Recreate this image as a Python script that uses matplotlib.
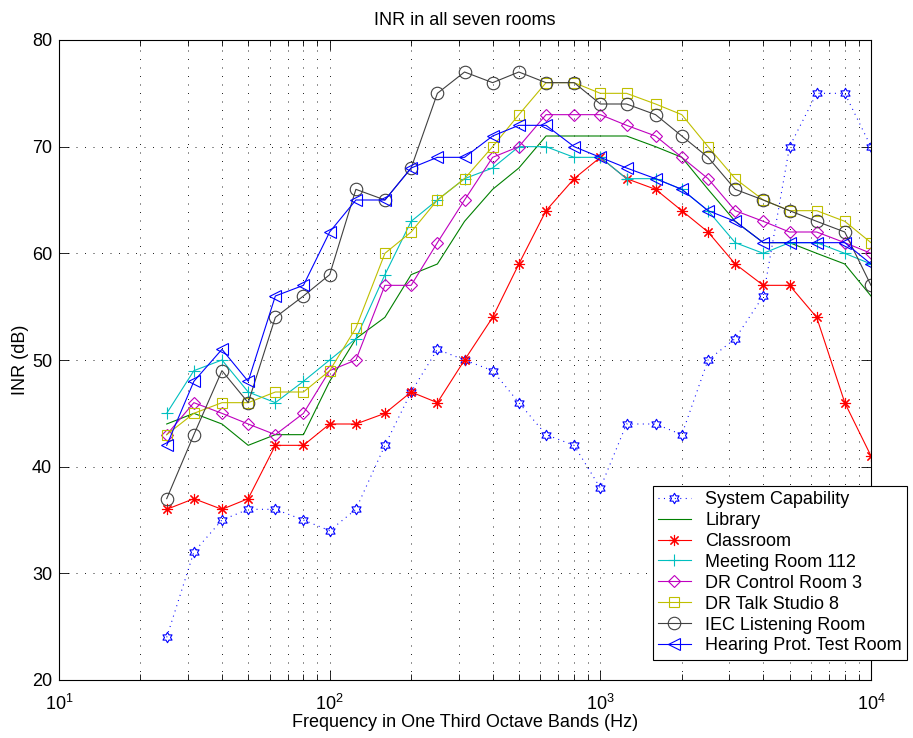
import numpy as np
import matplotlib
matplotlib.use("Agg")
import matplotlib.pyplot as plt
from matplotlib.path import Path

plt.rcParams['font.family'] = ['Liberation Sans', 'DejaVu Sans']
plt.rcParams['mathtext.fontset'] = 'custom'
plt.rcParams['mathtext.rm'] = 'Liberation Sans'
plt.rcParams['mathtext.default'] = 'regular'

# One-third octave band centre frequencies (Hz)
freq = [25, 31.5, 40, 50, 63, 80, 100, 125, 160, 200, 250, 315, 400, 500,
        630, 800, 1000, 1250, 1600, 2000, 2500, 3150, 4000, 5000, 6300, 8000, 10000]

system_capability = [24, 32, 35, 36, 36, 35, 34, 36, 42, 47, 51, 50, 49, 46,
                     43, 42, 38, 44, 44, 43, 50, 52, 56, 70, 75, 75, 70]
library = [44, 45, 44, 42, 43, 43, 48, 52, 54, 58, 59, 63, 66, 68,
           71, 71, 71, 71, 70, 69, 66, 63, 61, 61, 60, 59, 56]
classroom = [36, 37, 36, 37, 42, 42, 44, 44, 45, 47, 46, 50, 54, 59,
             64, 67, 69, 67, 66, 64, 62, 59, 57, 57, 54, 46, 41]
meeting_room_112 = [45, 49, 50, 47, 46, 48, 50, 52, 58, 63, 65, 67, 68, 70,
                    70, 69, 69, 67, 67, 66, 64, 61, 60, 61, 61, 60, 59]
dr_control_room_3 = [43, 46, 45, 44, 43, 45, 49, 50, 57, 57, 61, 65, 69, 70,
                     73, 73, 73, 72, 71, 69, 67, 64, 63, 62, 62, 61, 60]
dr_talk_studio_8 = [43, 45, 46, 46, 47, 47, 49, 53, 60, 62, 65, 67, 70, 73,
                    76, 76, 75, 75, 74, 73, 70, 67, 65, 64, 64, 63, 61]
iec_listening_room = [37, 43, 49, 46, 54, 56, 58, 66, 65, 68, 75, 77, 76, 77,
                      76, 76, 74, 74, 73, 71, 69, 66, 65, 64, 63, 62, 57]
hearing_prot_room = [42, 48, 51, 48, 56, 57, 62, 65, 65, 68, 69, 69, 71, 72,
                     72, 70, 69, 68, 67, 66, 64, 63, 61, 61, 61, 61, 59]

labels = ['System Capability', 'Library', 'Classroom', 'Meeting Room 112',
          'DR Control Room 3', 'DR Talk Studio 8', 'IEC Listening Room',
          'Hearing Prot. Test Room']

# Six-pointed star outline marker
ang = np.pi / 2 + np.arange(12) * np.pi / 6
rad = np.where(np.arange(12) % 2 == 0, 1.0, 1.0 / np.sqrt(3))
hexagram = Path(np.column_stack([rad * np.cos(ang), rad * np.sin(ang)]).tolist()
                + [[0.0, 1.0]], closed=True)

blue = (0, 0, 1)
green = (0, 0.5, 0)
red = (1, 0, 0)
cyan = (0, 0.75, 0.75)
magenta = (0.75, 0, 0.75)
yellow = (0.75, 0.75, 0)
gray = (0.25, 0.25, 0.25)

FS = 13

fig = plt.figure(figsize=(9.13, 7.38), dpi=100)
ax = fig.add_axes([59 / 913, 1 - 680 / 738, 812 / 913, 640 / 738])

lw = 0.8
ax.plot(freq, system_capability, color=blue, linestyle=(0, (0.9, 4)), lw=lw,
        marker=hexagram, markersize=7.5, mfc='none', mec=blue, mew=lw, label=labels[0])
ax.plot(freq, library, color=green, lw=lw, label=labels[1])
ax.plot(freq, classroom, color=red, lw=lw, marker=(8, 2, 0), markersize=8,
        mew=lw, label=labels[2])
ax.plot(freq, meeting_room_112, color=cyan, lw=lw, marker='+', markersize=8,
        mew=lw, label=labels[3])
ax.plot(freq, dr_control_room_3, color=magenta, lw=lw, marker='D', markersize=6.5,
        mfc='none', mew=lw, label=labels[4])
ax.plot(freq, dr_talk_studio_8, color=yellow, lw=lw, marker='s', markersize=7.5,
        mfc='none', mew=lw, label=labels[5])
ax.plot(freq, iec_listening_room, color=gray, lw=lw, marker='o', markersize=9,
        mfc='none', mew=lw, label=labels[6])
ax.plot(freq, hearing_prot_room, color=blue, lw=lw, marker='<', markersize=9,
        mfc='none', mew=lw, label=labels[7])

ax.set_xscale('log')
ax.set_xlim(10, 10000)
ax.set_ylim(20, 80)
ax.set_yticks(np.arange(20, 81, 10))

ax.grid(True, which='major', axis='both', color='black',
        linestyle=(0, (1.2, 9)), lw=0.6)
ax.grid(True, which='minor', axis='x', color='black',
        linestyle=(0, (1.2, 9)), lw=0.6)
ax.set_axisbelow(True)

ax.tick_params(which='both', direction='in', top=True, right=True,
               labelsize=FS, width=0.6, colors='black')
ax.tick_params(which='major', length=7)
ax.tick_params(which='minor', length=4)
ax.tick_params(axis='x', which='both', pad=10)
ax.tick_params(axis='y', which='major', pad=5)
ax.tick_params(axis='y', which='minor', left=False, right=False)
for s in ax.spines.values():
    s.set_linewidth(0.8)

ax.set_title('INR in all seven rooms', fontsize=FS, pad=11)
ax.set_xlabel('Frequency in One Third Octave Bands (Hz)', fontsize=FS, labelpad=0)
ax.set_ylabel('INR (dB)', fontsize=FS, labelpad=2)

leg = ax.legend(loc='upper left', bbox_to_anchor=(653 / 913, 1 - 486 / 738),
                bbox_transform=fig.transFigure, borderaxespad=0, fontsize=FS,
                numpoints=1, handlelength=1.8, handletextpad=0.8,
                labelspacing=0.217, borderpad=0.28, fancybox=False,
                framealpha=1, edgecolor='black')
leg.get_frame().set_linewidth(0.8)

fig.savefig('out.png', dpi=100, facecolor='white')
